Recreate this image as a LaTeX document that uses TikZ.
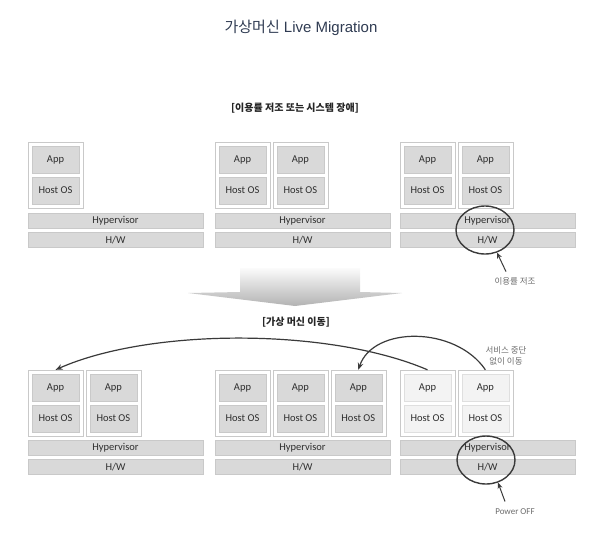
\documentclass[tikz,border=0pt]{standalone}
\usepackage{fontspec}
\setmainfont{Carlito}
\newfontfamily\krfont{Noto Sans CJK KR}
\newfontfamily\titlefont{Liberation Sans}
\usepackage{tikz}
\usetikzlibrary{positioning,chains,shapes.geometric,arrows.meta}
\definecolor{boxgray}{HTML}{D9D9D9}
\definecolor{idlegray}{HTML}{F3F3F3}
\definecolor{edgegray}{HTML}{C9C9C9}
\definecolor{labelgray}{HTML}{2E2E2E}
\definecolor{darkline}{HTML}{3A3A3A}
\definecolor{titleblue}{HTML}{2F3B52}

\begin{document}
\begin{tikzpicture}[x=1pt,y=-1pt]
	\useasboundingbox (0,0) rectangle (589,539);
	\tikzset{
		vmbox/.style={draw=edgegray,fill=white,minimum width=55pt,minimum height=66pt,inner sep=0pt},
		layer/.style={draw=edgegray,fill=boxgray,minimum width=47pt,minimum height=27pt,inner sep=0pt,
			text=labelgray,font=\fontsize{10.5}{12}\selectfont},
		idle/.style={layer,fill=idlegray,draw=gray!25},
		bar/.style={layer,minimum width=175pt,minimum height=15pt},
		krtext/.style={font=\krfont\fontsize{8.5}{11.5}\selectfont,text=gray!85!black,align=center},
		caption/.style={font=\krfont\bfseries\fontsize{10}{12}\selectfont,text=black!85},
		migr/.style={-{Stealth[length=7pt,width=5.5pt]},line width=1.2pt,draw=darkline},
		pointer/.style={-{Stealth[length=6pt,width=5pt]},line width=1pt,draw=darkline},
		fail/.style={draw=darkline,line width=1.4pt,ellipse,minimum width=58pt,minimum height=48pt,inner sep=0pt}
	}
	% one VM: outer box on the chain, App and Host OS inside
	\def\vmstack#1#2{%
		\node[on chain,vmbox] (#1) {};
		\node[#2,below=4pt of #1.north] (#1app) {App};
		\node[#2,above=4pt of #1.south] (#1os) {Host OS};}

	\node[font=\titlefont\fontsize{15}{18}\selectfont,text=titleblue] (title) at (301,28) {{\krfont 가상머신} Live Migration};
	\node[caption] (cause) at (295,108) {[이용률 저조 또는 시스템 장애]};

	%% Before migration
	\begin{scope}[shift={(55.5,175)},start chain=going right,node distance=2.5pt]
		\vmstack{t1a}{layer}
		\node[bar] (hypT1) at (60,45.5) {Hypervisor};
		\node[bar,below=4pt of hypT1] (hwT1) {H/W};
	\end{scope}
	\begin{scope}[shift={(242.5,175)},start chain=going right,node distance=2.5pt]
		\vmstack{t2a}{layer}
		\vmstack{t2b}{layer}
		\node[bar] (hypT2) at (60,45.5) {Hypervisor};
		\node[bar,below=4pt of hypT2] (hwT2) {H/W};
	\end{scope}
	\begin{scope}[shift={(427.5,175)},start chain=going right,node distance=2.5pt]
		\vmstack{t3a}{layer}
		\vmstack{t3b}{layer}
		\node[bar] (hypT3) at (60,45.5) {Hypervisor};
		\node[bar,below=4pt of hypT3] (hwT3) {H/W};
	\end{scope}

	\node[fail] (lowuse) at (485,230) {};
	\node[krtext] (lowlabel) at (515,281) {이용률 저조};
	\draw[pointer] ([xshift=-9pt,yshift=2pt]lowlabel.north) -- (lowuse.-62);

	%% Big arrow
	\shade[top color=gray!3,bottom color=gray!60]
		(240,268) -- (360,268) -- (360,292) -- (402,293) -- (295,306) -- (188,293) -- (240,292) -- cycle;
	\node[caption] (move) at (296,322) {[가상 머신 이동]};

	%% After migration
	\begin{scope}[shift={(55.5,403)},start chain=going right,node distance=2.5pt]
		\vmstack{b1a}{layer}
		\vmstack{b1b}{layer}
		\node[bar] (hypB1) at (60,44.5) {Hypervisor};
		\node[bar,below=4pt of hypB1] (hwB1) {H/W};
	\end{scope}
	\begin{scope}[shift={(242.5,403)},start chain=going right,node distance=2.5pt]
		\vmstack{b2a}{layer}
		\vmstack{b2b}{layer}
		\vmstack{b2c}{layer}
		\node[bar] (hypB2) at (60,44.5) {Hypervisor};
		\node[bar,below=4pt of hypB2] (hwB2) {H/W};
	\end{scope}
	\begin{scope}[shift={(427.5,403)},start chain=going right,node distance=2.5pt]
		\vmstack{b3a}{idle}
		\vmstack{b3b}{idle}
		\node[bar] (hypB3) at (60,44.5) {Hypervisor};
		\node[bar,below=4pt of hypB3] (hwB3) {H/W};
	\end{scope}

	\draw[migr] (b3a.north) .. controls +(-98,-42) and +(95,-42) .. (b1a.north);
	\draw[migr] (b3b.north) .. controls +(-30,-44) and +(15,-44) .. (b2c.north);
	\node[krtext] (nostop) at (506,356) {서비스 중단\\없이 이동};

	\node[fail] (poweroff) at (486,460) {};
	\node[krtext,font=\fontsize{9}{11}\selectfont] (offlabel) at (515,512) {Power OFF};
	\draw[pointer] ([xshift=-10pt,yshift=4pt]offlabel.north) -- (poweroff.-62);
\end{tikzpicture}
\end{document}
